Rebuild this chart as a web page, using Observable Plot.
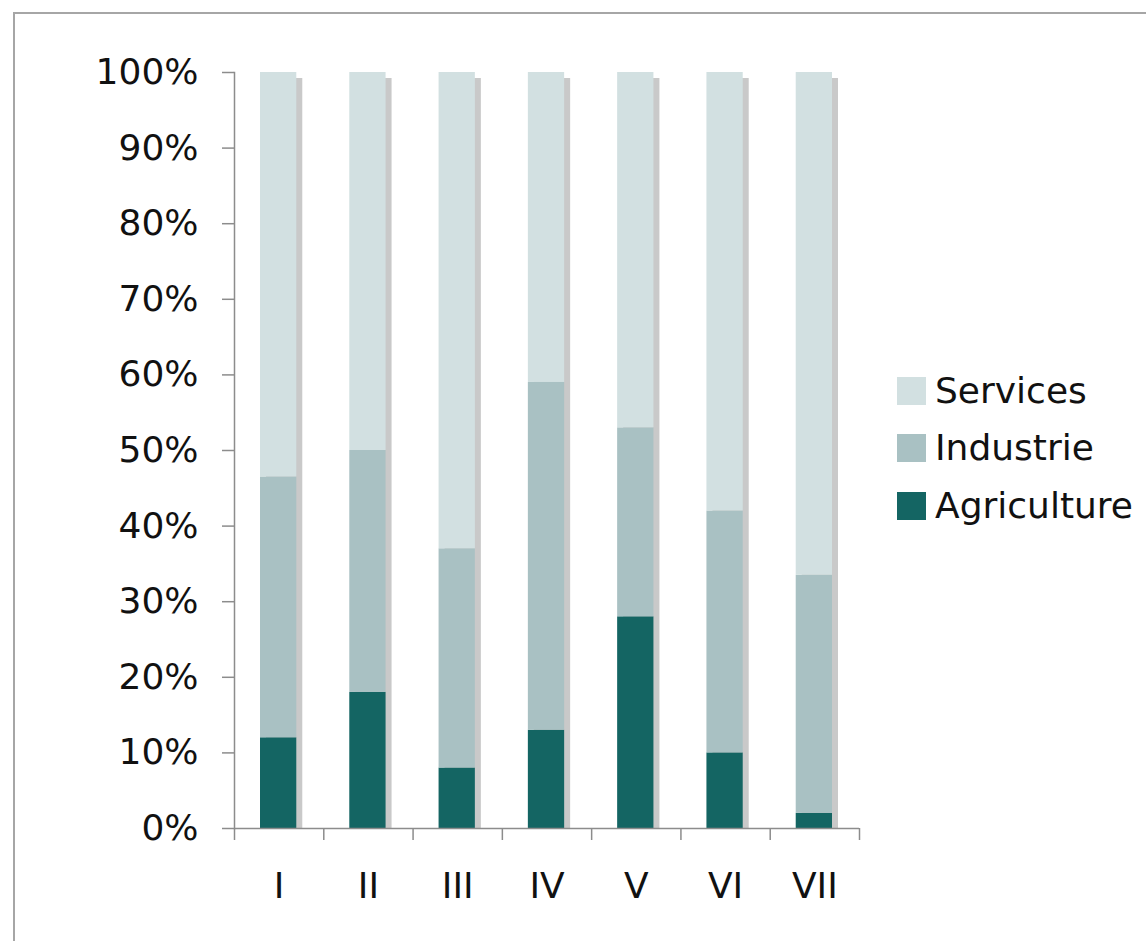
<!DOCTYPE html>
<html>
<head>
<meta charset="utf-8">
<script src="https://cdn.jsdelivr.net/npm/d3@7"></script>
<script src="https://cdn.jsdelivr.net/npm/@observablehq/plot@0.6"></script>
<style>
  html, body { margin: 0; padding: 0; background: #fff; }
  #page { position: relative; width: 1146px; height: 941px; overflow: hidden; font-family: "DejaVu Sans", Verdana, sans-serif; }
  #border { position: absolute; left: 13px; top: 12px; width: 1200px; height: 1000px; border-left: 2px solid #a6a6a6; border-top: 2px solid #a6a6a6; }
  #chart { position: absolute; left: 0; top: 0; }
  #legend { position: absolute; left: 897px; top: 362px; }
  .row { display: flex; align-items: center; height: 57.5px; }
  .sw { width: 29px; height: 28px; margin-right: 9px; }
  .lbl { font-size: 36px; color: #111; line-height: 1; }
</style>
</head>
<body>
<div id="page">
  <div id="border"></div>
  <div id="chart"></div>
  <div id="legend"></div>
</div>
<script>
const categories = ["I", "II", "III", "IV", "V", "VI", "VII"];
const agriculture = [12, 18, 8, 13, 28, 10, 2];
const industrie = [34.5, 32, 29, 46, 25, 32, 31.5];
const services = [53.5, 50, 63, 41, 47, 58, 66.5];
const seriesNames = ["Agriculture", "Industrie", "Services"];
const seriesColors = ["#146563", "#a9c1c3", "#d2e0e1"];
const yTicks = [0, 10, 20, 30, 40, 50, 60, 70, 80, 90, 100];
const legendOrder = ["Services", "Industrie", "Agriculture"];

const seriesValues = [agriculture, industrie, services];
const table = [];
categories.forEach((c, i) => {
  seriesNames.forEach((s, k) => table.push({i, category: c, series: s, value: seriesValues[k][i]}));
});
const totals = categories.map((c, i) => ({i, total: agriculture[i] + industrie[i] + services[i]}));

const axisColor = "#8c8c8c";
const chart = Plot.plot({
  width: 880,
  height: 941,
  marginLeft: 234,
  marginRight: 21,
  marginTop: 72,
  marginBottom: 113,
  x: {type: "linear", domain: [0, categories.length], label: null},
  y: {domain: [0, 100], label: null},
  color: {domain: seriesNames, range: seriesColors},
  style: {fontFamily: "DejaVu Sans, Verdana, sans-serif", fontSize: "36px", color: "#111", background: "transparent"},
  marks: [
    Plot.rectY(totals, {x1: "i", x2: d => d.i + 1, y1: 0, y2: "total", fill: "#c9c9c9", insetLeft: 26, insetRight: 27, insetTop: 6, dx: 6}),
    Plot.rectY(table, {x1: "i", x2: d => d.i + 1, y: "value", fill: "series", insetLeft: 26, insetRight: 27}),
    Plot.ruleY([0], {stroke: axisColor, strokeWidth: 1.5}),
    Plot.frame({anchor: "left", stroke: axisColor, strokeWidth: 1.5}),
    Plot.axisY({ticks: yTicks, tickSize: 12, tickPadding: 24, tickFormat: d => d + "%", stroke: axisColor, strokeWidth: 1.5, label: null}),
    Plot.axisX({ticks: d3.range(categories.length + 1), tickSize: 12, tickFormat: () => "", stroke: axisColor, strokeWidth: 1.5, label: null}),
    Plot.axisX({ticks: categories.map((c, i) => i + 0.5), tickSize: 0, tickPadding: 44, tickFormat: v => categories[Math.floor(v)], label: null})
  ]
});
document.getElementById("chart").appendChild(chart);

const legend = document.getElementById("legend");
legendOrder.forEach(name => {
  const row = document.createElement("div");
  row.className = "row";
  const sw = document.createElement("div");
  sw.className = "sw";
  sw.style.background = seriesColors[seriesNames.indexOf(name)];
  const lbl = document.createElement("span");
  lbl.className = "lbl";
  lbl.textContent = name;
  row.appendChild(sw);
  row.appendChild(lbl);
  legend.appendChild(row);
});
</script>
</body>
</html>
